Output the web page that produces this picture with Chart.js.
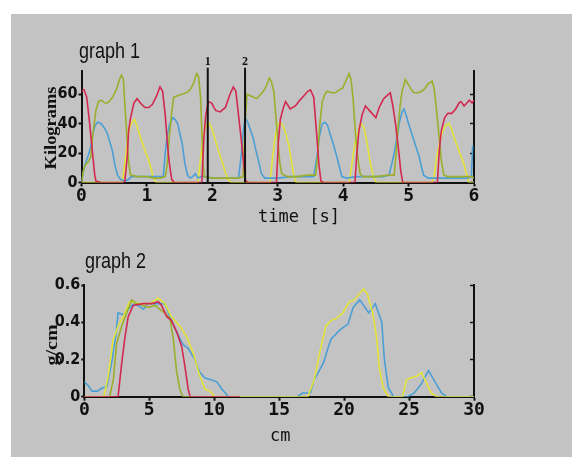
<!DOCTYPE html>
<html>
<head>
<meta charset="utf-8">
<title>graph 1 / graph 2</title>
<script src="https://cdn.jsdelivr.net/npm/chart.js"></script>
<style>
  body { margin:0; width:572px; height:457px; overflow:hidden; position:relative; background:#fff; }
  #panel { position:absolute; left:11px; top:14px; right:0; bottom:0; background:#c3c3c3; }
  canvas { position:absolute; left:0; }
  .title { position:absolute; font-family:"Liberation Sans", Arial, sans-serif; font-size:18px; line-height:18px; color:#111; white-space:nowrap; transform-origin:left bottom; transform:scaleY(1.18); }
  .mono { position:absolute; font-family:"DejaVu Sans Mono", monospace; font-size:17px; line-height:17px; color:#111; white-space:nowrap; }
  .ylab { position:absolute; font-family:"Liberation Serif", serif; font-weight:bold; color:#111; white-space:nowrap; line-height:1; }
</style>
</head>
<body>
<div id="panel"></div>
<canvas id="graph1" width="572" height="230" style="top:0"></canvas>
<canvas id="graph2" width="572" height="227" style="top:230px"></canvas>
<div class="title" style="left:79px; top:44px">graph 1</div>
<div class="title" style="left:85px; top:254px">graph 2</div>
<div class="mono" style="left:258px; top:208px">time [s]</div>
<div class="mono" style="left:270px; top:427px">cm</div>
<div class="ylab" style="left:51px; top:128px; font-size:16px; transform:translate(-50%,-50%) rotate(-90deg) scaleX(1.15)">Kilograms</div>
<div class="ylab" style="left:52px; top:345px; font-size:16px; transform:translate(-50%,-50%) rotate(-90deg) scaleX(1.25)">g/cm</div>
<script>
// ticks
var timeTicks = [0, 1, 2, 3, 4, 5, 6];
var kgTicks = [0, 20, 40, 60];
var cmTicks = [0, 5, 10, 15, 20, 25, 30];
var gcmTicks = [0, 0.2, 0.4, 0.6];
var markerT = [1.93, 2.5];
var markerText = ['1', '2'];

// graph 1 (time in s, kilograms)
var red1T = [0,0.04,0.08,0.12,0.16,0.2,0.22,0.3,0.66,0.7,0.72,0.75,0.8,0.85,0.9,0.97,1.03,1.08,1.14,1.2,1.24,1.28,1.31,1.34,1.38,1.42,1.84,1.87,1.9,1.94,1.99,2.05,2.12,2.2,2.27,2.32,2.36,2.4,2.44,2.48,2.51,2.55,2.98,3.01,3.04,3.08,3.12,3.19,3.27,3.34,3.4,3.46,3.5,3.55,3.6,3.63,3.66,3.7,4.18,4.21,4.24,4.29,4.34,4.42,4.5,4.55,4.62,4.67,4.72,4.76,4.8,4.85,4.88,4.91,5.44,5.47,5.5,5.55,5.6,5.66,5.72,5.77,5.8,5.85,5.89,5.93,5.97,6];
var red1Kg = [62,63,58,42,24,6,1,0,0,18,35,44,54,57,54,51,51,53,58,65,62,46,28,14,2,0,0,30,46,55,54,49,48,51,60,65,62,46,30,12,1,0,0,28,43,50,55,50,52,56,59,62,63,58,30,12,1,0,0,20,35,46,52,48,44,51,57,59,61,52,40,21,8,0,0,22,35,44,47,47,50,54,55,52,54,56,54,56];

var green1T = [0,0.03,0.06,0.1,0.14,0.18,0.22,0.26,0.3,0.36,0.4,0.46,0.5,0.54,0.58,0.61,0.64,0.66,0.69,0.72,0.75,0.85,1.0,1.1,1.2,1.28,1.31,1.34,1.38,1.41,1.47,1.53,1.6,1.66,1.71,1.76,1.79,1.82,1.84,1.86,1.88,2.0,2.2,2.4,2.47,2.5,2.53,2.58,2.63,2.68,2.72,2.78,2.83,2.87,2.9,2.94,2.97,3.0,3.03,3.06,3.15,3.3,3.45,3.58,3.61,3.64,3.68,3.72,3.76,3.82,3.88,3.94,3.99,4.05,4.09,4.12,4.15,4.18,4.22,4.26,4.3,4.5,4.7,4.78,4.81,4.84,4.87,4.9,4.95,4.99,5.03,5.08,5.14,5.2,5.25,5.3,5.36,5.39,5.42,5.46,5.5,5.54,5.6,5.8,5.97,6];
var green1Kg = [0,8,12,14,17,35,49,55,56,54,54,57,60,64,70,73,70,55,34,14,5,4,4,3,3,4,12,30,48,58,59,60,61,63,67,74,72,58,35,12,4,3,3,3,4,40,60,59,58,57,59,62,66,71,69,62,45,30,14,6,4,4,5,5,18,38,55,60,62,61,61,63,64,70,74,70,58,38,18,6,4,4,5,5,20,38,52,62,70,67,64,61,61,62,64,67,69,64,52,34,15,5,4,4,4,3];

var blue1T = [0,0.03,0.06,0.1,0.14,0.18,0.21,0.25,0.3,0.35,0.39,0.43,0.47,0.51,0.55,0.6,0.66,0.72,0.76,0.85,1.0,1.15,1.25,1.28,1.31,1.35,1.4,1.43,1.47,1.5,1.54,1.58,1.62,1.66,1.7,1.74,1.78,1.83,1.9,2.0,2.2,2.4,2.44,2.47,2.5,2.54,2.58,2.62,2.66,2.71,2.75,2.8,2.9,3.0,3.2,3.4,3.55,3.6,3.64,3.68,3.72,3.76,3.8,3.85,3.9,3.94,3.98,4.05,4.2,4.4,4.6,4.7,4.74,4.78,4.82,4.86,4.9,4.93,4.96,5.0,5.05,5.1,5.16,5.2,5.23,5.3,5.5,5.7,5.9,5.96,5.98];
var blue1Kg = [0,8,13,18,24,34,39,41,40,37,34,28,22,12,5,2,1,2,4,4,4,4,4,20,32,40,44,43,40,34,26,13,5,3,4,6,3,4,4,3,3,3,18,34,44,41,36,31,23,14,6,3,3,3,4,4,4,18,32,40,41,39,33,26,18,11,4,3,4,4,4,5,12,20,30,41,48,50,46,40,33,26,18,10,5,3,3,3,3,4,25];

var yellow1T = [0,0.62,0.65,0.68,0.72,0.76,0.81,0.85,0.9,0.96,1.02,1.06,1.1,1.14,1.78,1.8,1.83,1.86,1.9,1.94,1.99,2.04,2.09,2.15,2.2,2.24,2.28,2.88,2.91,2.95,2.99,3.03,3.08,3.13,3.17,3.21,3.25,3.28,4.09,4.12,4.16,4.2,4.25,4.28,4.32,4.36,4.39,4.43,4.47,4.5,5.36,5.39,5.43,5.48,5.52,5.57,5.62,5.66,5.7,5.75,5.8,5.85,5.89,5.92,6];
var yellow1Kg = [0,0,8,20,34,40,43,38,31,23,16,10,3,0,0,8,20,32,38,41,37,30,22,14,7,2,0,0,12,28,38,41,39,32,25,14,4,0,0,8,21,31,38,40,37,28,20,10,3,0,0,4,18,28,35,39,40,36,30,24,18,12,5,0,0];

// graph 2 (cm, g/cm)
var red2Cm = [0,2.6,2.88,3.13,3.38,3.77,4.5,5.2,5.7,5.95,6.35,6.7,7.1,7.5,7.75,8.0,8.15,12];
var red2G = [0,0,0.18,0.32,0.43,0.49,0.5,0.5,0.51,0.49,0.43,0.41,0.35,0.27,0.16,0.04,0,0];

var green2Cm = [0,1.95,2.23,2.5,2.88,3.26,3.65,4.03,4.55,4.92,5.45,5.8,6.2,6.6,6.85,7.1,7.35,7.6,12];
var green2G = [0,0,0.09,0.29,0.38,0.45,0.52,0.5,0.49,0.48,0.49,0.47,0.45,0.42,0.31,0.14,0.04,0,0];

var blue2Cm = [0,0.3,0.6,1.0,1.35,1.75,2.1,2.45,2.6,3.0,3.4,3.8,4.15,4.55,4.9,5.5,6.2,6.6,7.1,7.6,8.0,8.5,8.9,9.3,9.8,10.2,10.6,11.1,16.4,16.8,17.4,17.7,18.4,18.8,19.0,19.7,20.3,20.7,21.2,21.9,22.4,22.9,23.1,23.4,23.8,24.9,25.4,25.95,26.5,27.0,27.5,27.9,30];
var blue2G = [0.08,0.06,0.03,0.03,0.045,0.055,0.18,0.34,0.45,0.44,0.47,0.5,0.49,0.47,0.5,0.5,0.5,0.43,0.35,0.28,0.26,0.2,0.13,0.1,0.09,0.08,0.04,0,0,0.02,0.02,0.09,0.18,0.27,0.31,0.36,0.39,0.48,0.52,0.45,0.5,0.4,0.2,0.05,0,0,0.02,0.07,0.14,0.08,0.02,0,0];

var yellow2Cm = [0,1.5,1.85,2.2,2.6,3.0,3.5,4.3,5.05,5.7,6.2,6.7,7.35,7.9,8.4,8.9,9.3,9.7,10.0,17.2,17.7,18.1,18.6,19.0,19.4,19.9,20.4,20.8,21.5,21.8,22.2,22.5,22.7,23.0,23.4,24.5,24.8,25.1,25.6,25.95,26.3,26.7,27.1,30];
var yellow2G = [0,0,0.11,0.3,0.38,0.43,0.51,0.5,0.5,0.53,0.5,0.43,0.38,0.32,0.23,0.11,0.04,0.03,0,0,0.09,0.23,0.38,0.41,0.42,0.45,0.51,0.52,0.58,0.55,0.45,0.32,0.16,0.05,0,0,0.09,0.1,0.11,0.13,0.08,0.02,0,0];

var RED = '#d3284f', GREEN = '#9cae2c', BLUE = '#4b9fd4', YELLOW = '#e3e33a', INK = '#111';

function pts(xs, ys) { return xs.map(function (x, i) { return { x: x, y: ys[i] }; }); }

function line(xs, ys, color) {
  return { data: pts(xs, ys), borderColor: color, borderWidth: 1.6, pointRadius: 0, fill: false, tension: 0 };
}

var xFont = { family: 'DejaVu Sans Mono', size: 18, weight: 'bold' };
var yFont = { family: 'DejaVu Sans Condensed', size: 16, weight: 'bold' };

function setTicks(list) {
  return function (scale) { scale.ticks = list.map(function (v) { return { value: v }; }); };
}

function scalesFor(xMin, xMax, xList, yMax, yList, yFmt) {
  return {
    x: {
      type: 'linear', min: xMin, max: xMax,
      afterBuildTicks: setTicks(xList),
      afterFit: function (s) { s.height = 30; },
      ticks: { font: xFont, color: INK, padding: -1, maxRotation: 0, autoSkip: false },
      grid: { drawOnChartArea: false, tickLength: 4, tickColor: INK, tickWidth: 2 },
      border: { color: INK, width: 2 }
    },
    y: {
      position: 'left', min: 0, max: yMax,
      afterBuildTicks: setTicks(yList),
      afterFit: function (s) { s.width = 40; },
      ticks: { font: yFont, color: INK, padding: 1, callback: yFmt },
      grid: { drawOnChartArea: false, tickLength: 3, tickColor: INK, tickWidth: 2 },
      border: { color: INK, width: 2 }
    },
    y2: {
      position: 'right', min: 0, max: yMax,
      afterBuildTicks: setTicks(yList),
      afterFit: function (s) { s.width = 6; },
      ticks: { display: false },
      grid: { drawOnChartArea: false, tickLength: -4, tickColor: INK, tickWidth: 1.5 },
      border: { color: INK, width: 2 }
    }
  };
}

var markerPlugin = {
  id: 'markers',
  afterDatasetsDraw: function (chart) {
    var ctx = chart.ctx, area = chart.chartArea, x = chart.scales.x;
    ctx.save();
    ctx.strokeStyle = INK;
    ctx.fillStyle = INK;
    ctx.lineWidth = 2;
    ctx.font = 'bold 12px "Liberation Serif"';
    ctx.textAlign = 'center';
    ctx.textBaseline = 'bottom';
    markerT.forEach(function (t, i) {
      var px = x.getPixelForValue(t);
      ctx.beginPath();
      ctx.moveTo(px, area.top - 3);
      ctx.lineTo(px, area.bottom);
      ctx.stroke();
      ctx.fillText(markerText[i], px, area.top - 3);
    });
    ctx.restore();
  }
};

new Chart(document.getElementById('graph1'), {
  type: 'line',
  data: {
    datasets: [
      line(red1T, red1Kg, RED),
      line(green1T, green1Kg, GREEN),
      line(blue1T, blue1Kg, BLUE),
      line(yellow1T, yellow1Kg, YELLOW)
    ]
  },
  options: {
    responsive: false,
    animation: false,
    layout: { padding: { left: 41.5, right: 92, top: 70.7, bottom: 17.5 } },
    plugins: { legend: { display: false }, tooltip: { enabled: false } },
    scales: scalesFor(0, 6, timeTicks, 76, kgTicks, function (v) { return v; })
  },
  plugins: [markerPlugin]
});

new Chart(document.getElementById('graph2'), {
  type: 'line',
  data: {
    datasets: [
      line(red2Cm, red2G, RED),
      line(green2Cm, green2G, GREEN),
      line(yellow2Cm, yellow2G, YELLOW),
      line(blue2Cm, blue2G, BLUE)
    ]
  },
  options: {
    responsive: false,
    animation: false,
    layout: { padding: { left: 44.3, right: 92, top: 55, bottom: 30.3 } },
    plugins: { legend: { display: false }, tooltip: { enabled: false } },
    scales: scalesFor(0, 30, cmTicks, 0.6, gcmTicks, function (v) { return v === 0 ? '0' : v.toFixed(1); })
  }
});
</script>
</body>
</html>
